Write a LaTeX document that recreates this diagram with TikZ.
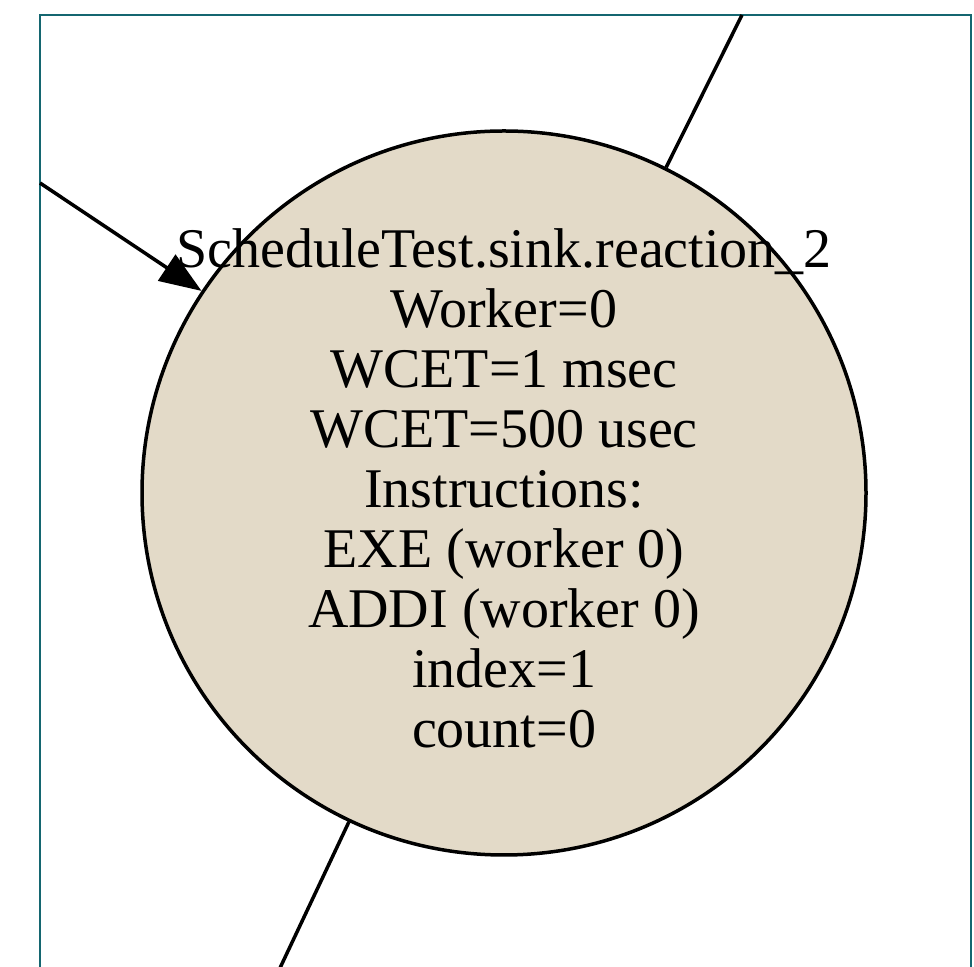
\documentclass[tikz,border=0pt]{standalone}
\usepackage{fontspec}
\setmainfont{Liberation Serif}
\usetikzlibrary{arrows.meta}
\definecolor{clusterteal}{RGB}{20,102,112}
\definecolor{reactionfill}{RGB}{227,218,200}
\tikzset{
  reaction/.style={circle, draw=black, line width=3.5pt, fill=reactionfill,
    minimum size=724pt, inner sep=0pt},
  reactiontext/.style={align=center, inner sep=0pt,
    font=\fontsize{56}{60}\selectfont},
  edge/.style={draw=black, line width=3.5pt},
  cluster/.style={draw=clusterteal, line width=2.5pt}
}
\begin{document}
\begin{tikzpicture}[x=1pt, y=1pt]
  \useasboundingbox (0,0) rectangle (974,966);
  \clip (0,0) rectangle (974,966);
  % enclosing cluster frame
  \draw[cluster] (40,951) rectangle (971,-40);
  % reaction node
  \node[reaction] (r2) at (504,473) {};
  % multi-line label, anchored on the baseline of its last line
  \node[reactiontext, anchor=base] (r2text) at (504,218)
    {ScheduleTest.sink.reaction\_2\\Worker=0\\WCET=1 msec\\WCET=500 usec\\Instructions:\\EXE (worker 0)\\ADDI (worker 0)\\index=1\\count=0};
  % edge end points
  \coordinate (inL) at (40,783);
  \coordinate (outT) at (742,951);
  \coordinate (outB) at (280,-2);
  \draw[edge, -{Triangle[length=42pt, width=31pt]}] (inL) -- (r2);
  \draw[edge] (r2) -- (outT);
  \draw[edge] (r2) -- (outB);
\end{tikzpicture}
\end{document}
